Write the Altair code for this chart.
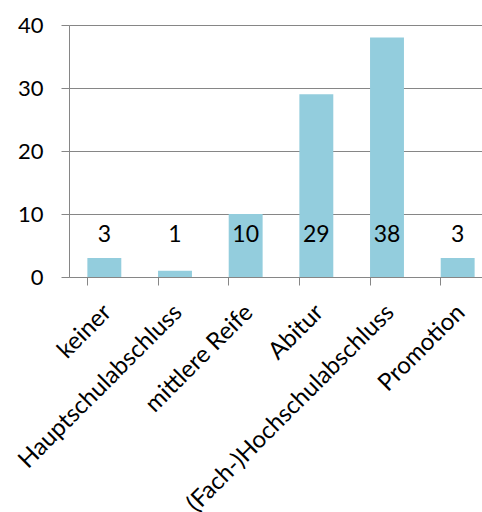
import altair as alt
import pandas as pd

categories = ["keiner", "Hauptschulabschluss", "mittlere Reife", "Abitur",
              "(Fach-)Hochschulabschluss", "Promotion"]
values = [3, 1, 10, 29, 38, 3]
y_ticks = [0, 5, 10, 15, 20, 25, 30, 35, 40]

df = pd.DataFrame({"cat": categories, "val": values})

FONT = "Lato"
GRAY = "#868686"

x_enc = alt.X("cat:N", sort=categories, title=None,
              scale=alt.Scale(range=[0, 424], paddingInner=0.52, paddingOuter=0.26),
              axis=alt.Axis(labelAngle=-45, labelFontSize=24, labelFont=FONT,
                            labelColor="black", domainColor=GRAY, tickColor=GRAY,
                            tickSize=8, bandPosition=0, labelPadding=15, labelOffset=-5,
                            labelOverlap=False, labelLimit=400))

y_enc = alt.Y("val:Q", title=None,
              scale=alt.Scale(domain=[0, 40], nice=False),
              axis=alt.Axis(values=y_ticks, labelFontSize=22, labelFont=FONT,
                            labelColor="black", domainColor=GRAY, tickColor=GRAY,
                            tickSize=8, labelPadding=18, gridColor=GRAY,
                            labelExpr="datum.value % 10 === 0 ? datum.label : ''",
                            gridOpacity={"condition": {"test": "datum.value % 10 === 0 && datum.value > 0", "value": 1}, "value": 0}))

bars = alt.Chart(df).mark_bar(color="#93CDDD").encode(x=x_enc, y=y_enc)

labels = alt.Chart(df).mark_text(fontSize=23, font=FONT, color="black",
                                 baseline="middle").encode(
    x=alt.X("cat:N", sort=categories),
    y=alt.datum(6.7),
    text="val:Q",
)

chart = alt.layer(bars, labels).properties(
    width=413, height=252,
    autosize=alt.AutoSizeParams(type="none"),
    padding={"left": 69, "top": 25, "right": 0, "bottom": 235},
).configure_view(stroke=None).configure(background="white")

chart.save("out.html", embed_options={"renderer": "svg", "actions": False})
